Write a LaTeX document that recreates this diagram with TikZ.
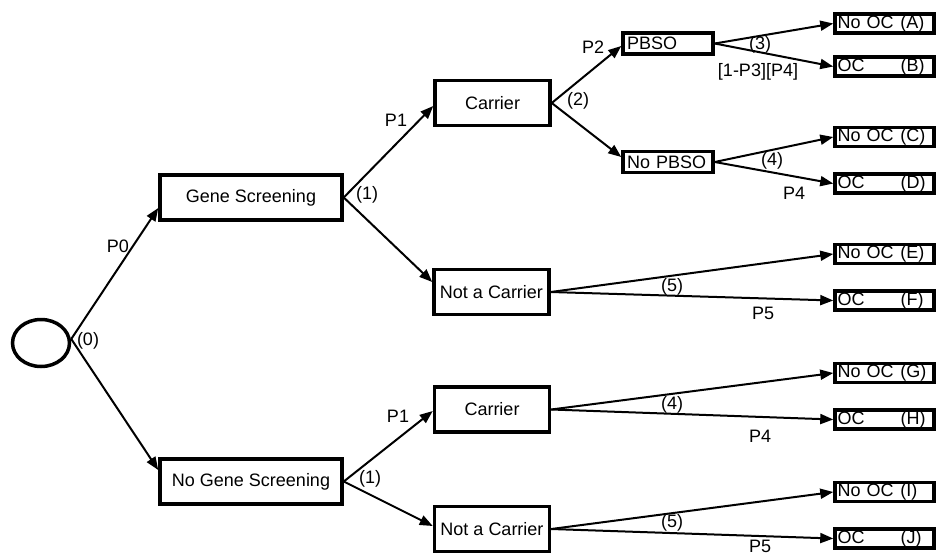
\documentclass[tikz,border=0pt]{standalone}
\usepackage{fontspec}
\setmainfont{Liberation Sans}
\usetikzlibrary{arrows.meta,shapes.geometric}
\begin{document}
\begin{tikzpicture}[x=1pt,y=-1pt,
  font=\fontsize{18}{21}\selectfont,
  box/.style={draw,line width=3.5pt,inner sep=0pt,minimum height=45pt},
  sbox/.style={draw,line width=3.5pt,inner xsep=4pt,inner ysep=0pt,minimum height=21pt,text width=82pt,align=left},
  obox/.style={draw,line width=3.5pt,inner xsep=2.5pt,inner ysep=0pt,minimum height=19pt,text width=94pt,align=left},
  conn/.style={line width=2pt,-{Triangle[length=13pt,width=10pt]}},
  lbl/.style={inner sep=0pt},
]
\useasboundingbox (0,0) rectangle (936,557);

% root
\node[draw,ellipse,line width=3.5pt,minimum width=57pt,minimum height=47pt,inner sep=0pt] (root) at (41,343) {};

% level 1
\node[box,minimum width=182pt] (gs) at (251,197.5) {Gene Screening};
\node[box,minimum width=182pt] (ngs) at (251,481.5) {No Gene Screening};

% level 2
\node[box,minimum width=115pt] (c1) at (492.5,103) {Carrier};
\node[box,minimum width=115pt] (n1) at (491.5,292) {Not a Carrier};
\node[box,minimum width=115pt] (c2) at (492,409.5) {Carrier};
\node[box,minimum width=115pt] (n2) at (492,529) {Not a Carrier};

% level 3
\node[sbox] (pb) at (668,43.5) {PBSO};
\node[sbox] (npb) at (668,162) {No PBSO};

% outcomes
\node[obox] (oA) at (884.5,23.5) {\makebox[63pt][l]{No OC}(A)};
\node[obox] (oB) at (884.5,66.5) {\makebox[63pt][l]{OC}(B)};
\node[obox] (oC) at (884.5,137) {\makebox[63pt][l]{No OC}(C)};
\node[obox] (oD) at (884.5,183.5) {\makebox[63pt][l]{OC}(D)};
\node[obox] (oE) at (884.5,254) {\makebox[63pt][l]{No OC}(E)};
\node[obox] (oF) at (884.5,300.5) {\makebox[63pt][l]{OC}(F)};
\node[obox] (oG) at (884.5,373) {\makebox[63pt][l]{No OC}(G)};
\node[obox] (oH) at (884.5,419.5) {\makebox[63pt][l]{OC}(H)};
\node[obox] (oI) at (884.5,492) {\makebox[63pt][l]{No OC}(I)};
\node[obox] (oJ) at (884.5,538.5) {\makebox[63pt][l]{OC}(J)};

% connectors
\draw[conn] ([yshift=4pt]root.east) -- ([yshift=-10.5pt]gs.west);
\draw[conn] ([yshift=4pt]root.east) -- ([yshift=11.5pt]ngs.west);

\draw[conn] (gs.east) -- ([yshift=-3pt]c1.west);
\draw[conn] (gs.east) -- ([yshift=10pt]n1.west);
\draw[conn] (ngs.east) -- ([yshift=-1.5pt]c2.west);
\draw[conn] (ngs.east) -- ([yshift=3pt]n2.west);

\draw[conn] (c1.east) -- ([yshift=-2.5pt]pb.west);
\draw[conn] (c1.east) -- ([yshift=5pt]npb.west);

\draw[conn] (pb.east) -- (oA.west);
\draw[conn] (pb.east) -- (oB.west);
\draw[conn] (npb.east) -- (oC.west);
\draw[conn] (npb.east) -- (oD.west);
\draw[conn] (n1.east) -- (oE.west);
\draw[conn] (n1.east) -- (oF.west);
\draw[conn] (c2.east) -- (oG.west);
\draw[conn] (c2.east) -- (oH.west);
\draw[conn] (n2.east) -- (oI.west);
\draw[conn] (n2.east) -- (oJ.west);

% labels
\node[lbl] (l0) at (88,341) {(0)};
\node[lbl] (lp0) at (118,246) {P0};
\node[lbl] (l1a) at (367,195) {(1)};
\node[lbl] (lp1a) at (396,120) {P1};
\node[lbl] (l1b) at (370,479) {(1)};
\node[lbl] (lp1b) at (398,416) {P1};
\node[lbl] (lp2) at (593,47) {P2};
\node[lbl] (l2) at (578,101) {(2)};
\node[lbl] (l3) at (760,45) {(3)};
\node[lbl] (lp3) at (758,72) {[1-P3][P4]};
\node[lbl] (l4a) at (772,161) {(4)};
\node[lbl] (lp4a) at (794,193) {P4};
\node[lbl] (l5a) at (672,287) {(5)};
\node[lbl] (lp5a) at (763,313) {P5};
\node[lbl] (l4b) at (672,405) {(4)};
\node[lbl] (lp4b) at (760,436) {P4};
\node[lbl] (l5b) at (672,523) {(5)};
\node[lbl] (lp5b) at (760,546) {P5};
\end{tikzpicture}
\end{document}
